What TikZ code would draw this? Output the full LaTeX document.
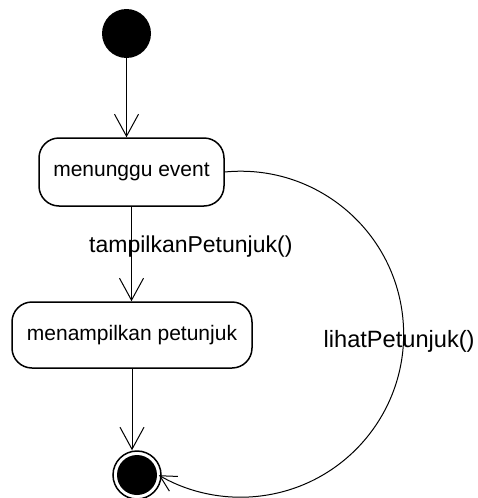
\documentclass[tikz,border=0pt]{standalone}
\usepackage{fontspec}
\setmainfont{Liberation Sans}
\usetikzlibrary{arrows.meta}
\begin{document}
\begin{tikzpicture}[x=1pt,y=-1pt,
  statebox/.style={draw, line width=1.5pt, rectangle, rounded corners=20pt,
    minimum height=68pt, inner sep=0pt, font=\fontsize{21}{25}\selectfont},
  conn/.style={line width=1pt, -{Straight Barb[length=22pt,width=24pt,line width=1pt]}},
  loopconn/.style={line width=1pt, -{Straight Barb[length=16pt,width=17pt,line width=1pt]}},
  lbl/.style={inner sep=0pt, font=\fontsize{23}{27}\selectfont}]
  \useasboundingbox (0,0) rectangle (478,498);

  % initial pseudo-state
  \node[circle, fill=black, minimum size=49pt, inner sep=0pt] (init) at (126.5,33.5) {};

  % states
  \node[statebox, minimum width=185pt] (wait) at (131.5,172) {menunggu event};
  \node[statebox, minimum width=240pt, minimum height=66pt] (show) at (132,335) {menampilkan petunjuk};

  % final state
  \node[circle, draw, line width=1.5pt, minimum size=48pt, inner sep=0pt,
    path picture={\fill (path picture bounding box.center) circle (20pt);}]
    (final) at (137,475) {};

  % transitions
  \draw[conn] (init.south) -- (init.south |- wait.north);
  \draw[conn] (wait.south) -- (wait.south |- show.north);
  \draw[conn] (show.south) -- (show.south |- final.north);
  \draw[loopconn] (wait.east) arc[start angle=95.6, end angle=-120.1, radius=163pt];

  % transition labels
  \node[lbl, anchor=base west] (lblshow) at (89,252) {tampilkanPetunjuk()};
  \node[lbl, anchor=base west, font=\fontsize{23.6}{27}\selectfont] (lbllook) at (323.5,347) {lihatPetunjuk()};
\end{tikzpicture}
\end{document}
